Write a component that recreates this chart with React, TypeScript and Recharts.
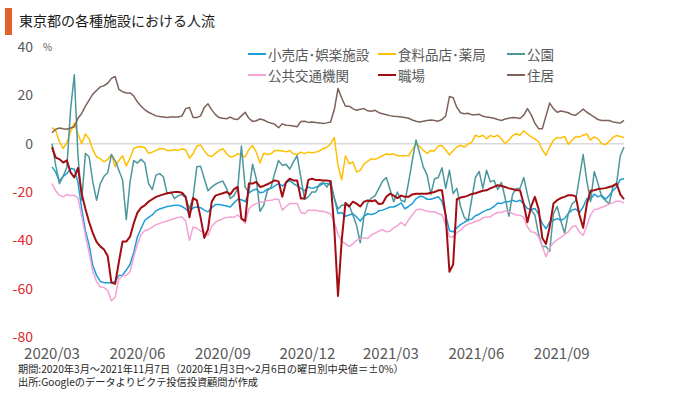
import { Line, LineChart, ReferenceLine, XAxis, YAxis } from "recharts";

// 7-day style mobility index, every 4 days from 2020-03-01
const START_DATE = "2020-03-01";
const STEP_DAYS = 4;

const retail = [
  -9.6, -11.8, -15.5, -13.5, -12.4, -10.3, -10.6, -16.0, -27.0, -36.0, -42.0, -50.5, -54.5, -57.0, -57.5, -57.5,
  -57.5, -57.0, -54.5, -54.4, -52.3, -50.0, -45.0, -38.5, -35.0, -31.7, -30.5, -29.5, -27.8, -27.0, -26.5, -26.0,
  -25.8, -25.5, -25.5, -26.0, -27.0, -28.5, -26.5, -26.2, -26.5, -27.5, -28.2, -26.5, -25.2, -25.2, -25.5, -25.8,
  -26.2, -24.5, -23.0, -23.2, -24.0, -20.5, -19.3, -18.8, -20.3, -20.0, -18.8, -18.5, -17.5, -16.5, -17.5, -16.2,
  -15.2, -16.5, -17.5, -18.5, -19.5, -17.9, -18.5, -18.0, -17.5, -16.5, -16.5, -17.0, -22.5, -28.9, -28.5, -30.0,
  -29.5, -29.0, -30.3, -32.0, -30.0, -29.0, -29.3, -28.9, -27.8, -27.5, -26.9, -26.2, -26.2, -25.5, -24.5, -27.0,
  -26.0, -24.8, -22.8, -21.8, -22.0, -23.0, -23.0, -22.5, -22.0, -23.8, -29.5, -36.0, -36.5, -34.8, -33.5, -32.6,
  -31.5, -31.3, -29.8, -29.2, -28.2, -27.5, -27.0, -26.0, -24.6, -24.8, -24.0, -24.0, -23.4, -24.0, -23.4, -25.0,
  -26.8, -27.2, -26.8, -29.0, -33.0, -35.2, -32.4, -31.7, -31.0, -31.7, -31.0, -28.9, -27.5, -27.0, -28.5, -26.2,
  -22.7, -23.0, -20.9, -22.0, -21.3, -23.0, -21.5, -19.5, -17.9, -14.8, -14.5,
];

const grocery = [
  6.6, 5.5, 0.8, -2.0, 0.5, 5.0, 8.5, 4.0, 0.0, 4.0, 2.0, -2.5, -5.5, -6.2, -7.5, -6.5,
  -4.5, -9.5, -7.0, -5.0, -9.2, -6.0, -2.0, -1.4, -1.2, -1.7, -4.0, -3.5, -2.8, -2.1, -2.1, -2.8,
  -2.8, -2.5, -2.8, -2.1, -2.5, -6.0, -4.1, -1.0, -0.5, -3.0, -4.8, -5.3, -4.0, -2.8, -2.1, -4.1,
  -5.5, -5.2, -4.2, -4.8, -5.5, -2.5, -0.8, -3.5, -8.0, -4.0, -4.5, -4.1, -2.8, -2.8, -3.0, -3.4,
  -2.8, -4.3, -4.5, -3.5, -4.1, -3.5, -3.8, -3.5, -3.0, -2.1, -1.5, 0.0, 2.5, -9.0, -15.0, -5.0,
  -8.3, -7.5, -11.7, -11.0, -8.5, -7.2, -6.2, -6.5, -5.8, -5.0, -4.2, -4.5, -4.2, -5.0, -5.0, -5.0,
  -5.0, -2.5, -0.2, -1.2, -2.8, -4.0, -2.8, -3.0, -1.0, -0.8, -2.6, -4.6, -2.8, -1.4, -0.7, -1.4,
  -0.2, 0.5, 3.5, 2.8, 3.5, 2.0, 3.4, 2.8, 3.5, 2.0, 0.0, 1.5, 3.3, 4.1, 3.5, 5.3,
  4.0, 2.8, 2.0, 0.8, -2.5, -4.8, -1.4, 1.5, 2.5, 2.3, 3.0, -0.3, 1.4, 2.8, 2.8, 3.5,
  4.0, 1.5, 2.8, 2.0, 0.0, -0.4, 1.0, 2.5, 3.4, 3.0, 2.5,
];

const parks = [
  0.0, -9.0, -16.5, -13.5, -9.8, 14.0, 28.5, -5.0, -23.4, -4.0, -5.5, -16.0, -23.4, -16.5, -13.5, -12.0,
  -4.5, -7.0, -11.0, -15.0, -31.5, -16.0, -7.0, -8.0, -6.5, -8.0, -16.5, -19.0, -13.0, -12.4, -13.8, -20.7,
  -20.0, -22.7, -21.5, -21.0, -22.5, -27.0, -22.0, -9.5, -9.3, -14.5, -19.5, -17.9, -16.8, -16.0, -15.5, -18.5,
  -22.7, -21.5, -18.5, -1.0, -18.0, -20.0, -8.5, -14.5, -28.0, -25.5, -19.5, -17.9, -12.0, -7.0, -9.0, -8.5,
  -10.5, -7.5, -5.0, -14.0, -23.0, -22.0, -20.0, -20.0, -16.8, -16.0, -18.0, -15.5, -22.5, -27.0, -25.5, -25.5,
  -25.5, -29.5, -33.8, -41.0, -30.0, -24.5, -22.5, -21.5, -18.5, -15.5, -14.0, -19.0, -24.0, -20.0, -23.5, -24.0,
  -16.0, -7.0, 1.5, -4.0, -9.8, -13.0, -21.0, -14.5, -14.0, -10.0, -18.5, -11.0, -20.7, -18.5, -26.0, -30.5,
  -32.0, -23.0, -14.0, -11.5, -18.5, -11.0, -15.8, -15.2, -19.0, -16.0, -22.5, -30.0, -21.0, -18.5, -18.5, -14.0,
  -21.0, -27.5, -29.5, -37.5, -42.5, -42.5, -44.5, -29.0, -26.0, -32.0, -37.0, -29.0, -25.0, -23.5, -14.0, -4.5,
  -15.5, -24.0, -11.5, -16.5, -22.0, -23.5, -25.0, -18.0, -16.5, -5.0, -1.4,
];

const transit = [
  -16.5, -19.5, -21.3, -22.0, -21.0, -21.5, -21.3, -22.5, -30.0, -38.0, -45.0, -53.0, -57.0, -59.2, -59.5, -60.8,
  -65.0, -63.5, -56.0, -54.7, -54.5, -53.0, -47.0, -41.5, -37.5, -35.9, -35.5, -34.5, -33.5, -33.0, -32.4, -32.0,
  -31.5, -31.0, -30.5, -30.3, -32.0, -40.0, -34.5, -35.0, -36.2, -36.5, -38.0, -34.4, -32.5, -31.7, -31.0, -30.6,
  -30.3, -30.5, -29.5, -31.0, -33.0, -27.0, -25.6, -24.8, -24.3, -24.0, -23.5, -23.4, -23.0, -23.0, -27.5, -26.0,
  -24.8, -24.8, -24.8, -28.5, -29.0, -27.5, -27.5, -27.5, -28.0, -28.0, -28.5, -29.0, -32.5, -37.5, -40.3, -41.5,
  -42.5, -41.5, -40.0, -39.5, -38.9, -39.2, -37.8, -37.0, -36.2, -35.5, -36.5, -36.2, -34.8, -34.0, -32.5, -34.0,
  -31.5, -29.5, -27.5, -27.0, -27.5, -28.0, -28.2, -28.2, -28.9, -29.5, -33.5, -38.5, -38.6, -36.8, -35.8, -34.2,
  -33.3, -32.8, -32.2, -31.7, -30.7, -30.3, -30.3, -29.2, -28.5, -28.5, -27.8, -28.2, -28.9, -29.5, -29.6, -30.5,
  -34.5, -36.5, -36.8, -38.5, -42.5, -46.8, -43.0, -41.0, -39.8, -38.8, -37.5, -36.5, -34.5, -34.0, -36.5, -38.0,
  -34.0, -29.5, -27.2, -27.0, -26.3, -25.8, -25.0, -24.5, -23.8, -23.8, -24.5,
];

const workplace = [
  -1.4, -5.8, -6.4, -7.8, -6.9, -11.9, -14.0, -10.0, -20.7, -27.0, -32.5, -37.0, -40.6, -42.5, -43.8, -46.5,
  -57.5, -58.0, -49.0, -40.5, -40.5, -38.5, -33.0, -28.5, -26.5, -25.5, -24.0, -23.0, -22.0, -21.5, -21.0, -20.5,
  -20.3, -20.0, -20.0, -20.3, -22.0, -30.5, -22.5, -23.5, -30.5, -39.0, -35.5, -24.0, -21.5, -21.0, -20.5, -20.0,
  -21.0, -18.8, -17.9, -31.0, -32.0, -16.5, -16.5, -15.8, -17.9, -17.5, -16.8, -16.0, -15.2, -15.6, -22.0, -16.0,
  -14.5, -15.2, -15.2, -22.7, -22.7, -15.0, -14.5, -15.0, -15.0, -15.2, -15.2, -15.5, -35.0, -63.0, -40.0, -24.5,
  -26.0, -24.0, -24.8, -26.0, -24.0, -23.5, -23.8, -23.4, -25.0, -24.8, -22.0, -20.7, -21.5, -22.5, -21.5, -22.0,
  -22.0, -21.0, -20.7, -20.7, -20.7, -20.7, -20.3, -20.0, -19.3, -19.3, -30.0, -53.0, -50.0, -23.0, -22.3, -22.0,
  -21.5, -20.8, -20.5, -20.0, -19.5, -19.3, -18.5, -17.9, -17.2, -17.5, -17.9, -18.5, -18.8, -19.3, -19.3, -25.0,
  -32.5, -26.0, -22.0, -27.0, -39.0, -41.5, -34.4, -24.8, -23.4, -22.5, -22.0, -21.3, -21.3, -21.8, -29.5, -34.8,
  -25.0, -19.5, -19.3, -18.8, -18.6, -18.4, -17.9, -17.5, -16.5, -21.0, -23.0,
];

const residential = [
  4.5, 6.0, 6.5, 6.2, 6.0, 6.5, 7.0, 10.5, 12.5, 15.5, 18.0, 20.5, 22.0, 23.5, 24.0, 25.0,
  27.0, 27.8, 22.5, 21.5, 21.0, 21.0, 19.8, 17.2, 15.5, 14.0, 13.0, 12.2, 11.5, 11.2, 11.0, 10.8,
  11.0, 11.0, 11.0, 11.5, 14.5, 15.0, 10.8, 10.8, 11.5, 15.0, 16.5, 14.0, 12.0, 10.8, 10.5, 10.3,
  11.0, 10.2, 10.0, 11.5, 13.0, 10.5, 9.2, 9.5, 10.2, 9.8, 9.0, 8.5, 8.0, 6.6, 8.2, 7.6,
  7.5, 7.3, 7.0, 9.2, 9.3, 8.8, 9.0, 8.8, 8.6, 8.3, 8.6, 9.0, 14.0, 22.8, 18.9, 15.5,
  15.5, 14.5, 13.8, 14.2, 14.5, 13.6, 13.4, 13.8, 12.8, 12.4, 12.0, 11.6, 11.3, 11.2, 11.0, 10.8,
  10.5, 9.8, 9.3, 9.0, 9.3, 9.6, 9.8, 9.6, 9.3, 10.0, 11.5, 19.5, 19.0, 15.0, 12.8, 12.4,
  12.6, 12.0, 12.0, 12.2, 11.3, 11.0, 10.8, 10.5, 10.0, 9.6, 10.2, 10.5, 10.8, 10.7, 10.4, 11.8,
  14.5, 12.0, 8.5, 6.2, 6.2, 11.5, 16.8, 14.5, 13.0, 13.5, 13.2, 12.8, 12.0, 11.8, 13.0, 14.3,
  13.0, 12.0, 11.0, 10.0, 9.6, 9.6, 9.6, 9.0, 8.8, 8.5, 9.6,
];

const TICK_DATES = ["2020-03-01", "2020-06-01", "2020-09-01", "2020-12-01", "2021-03-01", "2021-06-01", "2021-09-01"];
const TICK_LABELS = ["2020/03", "2020/06", "2020/09", "2020/12", "2021/03", "2021/06", "2021/09"];
const Y_TICKS = [-80, -60, -40, -20, 0, 20, 40];

const SERIES = [
  { key: "retail", name: "小売店･娯楽施設", color: "#1b9ed8", width: 1.5, values: retail },
  { key: "grocery", name: "食料品店･薬局", color: "#ffbf00", width: 1.5, values: grocery },
  { key: "parks", name: "公園", color: "#4b979b", width: 1.5, values: parks },
  { key: "transit", name: "公共交通機関", color: "#f3a2d4", width: 1.5, values: transit },
  { key: "workplace", name: "職場", color: "#a10d12", width: 2, values: workplace },
  { key: "residential", name: "住居", color: "#7d625a", width: 1.5, values: residential },
];

const FONT = "'Noto Sans CJK JP', 'Noto Sans', sans-serif";
const GRAY = "#595959";
const RED = "#e0282c";

function dayOf(iso: string) {
  return Math.round((Date.parse(iso) - Date.parse(START_DATE)) / 86400000);
}

const tickDays = TICK_DATES.map(dayOf);
const lastDay = (retail.length - 1) * STEP_DAYS;

const data = retail.map((_, i) => {
  const row: Record<string, number> = { day: i * STEP_DAYS };
  SERIES.forEach((s) => {
    row[s.key] = s.values[i];
  });
  return row;
});

function YTick({ x, y, payload }: any) {
  const v = payload.value as number;
  return (
    <g>
      <text x={x} y={y} dy="0.36em" textAnchor="end" fontSize={14} fill={v < 0 ? RED : GRAY}>
        {v}
      </text>
      {v === 40 && (
        <text x={x + 10} y={y} dy="0.36em" fontSize={10} fill={GRAY}>
          %
        </text>
      )}
    </g>
  );
}

export default function App() {
  return (
    <div
      style={{
        position: "absolute",
        left: 0,
        top: 0,
        width: 680,
        height: 393,
        background: "#fff",
        fontFamily: FONT,
        overflow: "hidden",
      }}
    >
      <div style={{ position: "absolute", left: 5, top: 8, width: 7, height: 27, background: "#e0622a" }} />
      <div
        style={{ position: "absolute", left: 19, top: 10, fontSize: 14, lineHeight: "20px", color: "#1a1a1a" }}
      >
        東京都の各種施設における人流
      </div>

      <LineChart width={680} height={393} data={data} margin={{ top: 47, right: 56, bottom: 26, left: 0 }}>
        <XAxis
          dataKey="day"
          type="number"
          domain={[0, lastDay]}
          ticks={tickDays}
          interval={0}
          tickFormatter={(d: number) => TICK_LABELS[tickDays.indexOf(d)] ?? ""}
          tick={{ fontSize: 15, fill: GRAY }}
          axisLine={false}
          tickLine={false}
          tickSize={0}
          tickMargin={11}
          height={30}
        />
        <YAxis
          domain={[-80, 40]}
          ticks={Y_TICKS}
          interval={0}
          tick={<YTick />}
          axisLine={false}
          tickLine={false}
          tickSize={0}
          tickMargin={19}
          width={52}
        />
        <ReferenceLine y={0} stroke="#d9d9d9" strokeWidth={1.5} />
        {SERIES.map((s) => (
          <Line
            key={s.key}
            dataKey={s.key}
            name={s.name}
            type="linear"
            stroke={s.color}
            strokeWidth={s.width}
            strokeLinejoin="round"
            dot={false}
            activeDot={false}
            isAnimationActive={false}
          />
        ))}
      </LineChart>

      {SERIES.map((s, i) => (
        <div
          key={s.key}
          style={{
            position: "absolute",
            left: [248, 378, 507][i % 3],
            top: i < 3 ? 44 : 65,
            display: "flex",
            alignItems: "center",
            height: 20,
            fontSize: 13.5,
            color: GRAY,
            whiteSpace: "nowrap",
          }}
        >
          <span style={{ display: "inline-block", width: 18, height: 2, background: s.color, marginRight: 2 }} />
          {s.name}
        </div>
      ))}

      <div style={{ position: "absolute", left: 18, top: 363, fontSize: 10.2, lineHeight: "12.5px", color: "#262626" }}>
        <div>期間:2020年3月～2021年11月7日（2020年1月3日～2月6日の曜日別中央値＝±0%）</div>
        <div>出所:Googleのデータよりピクテ投信投資顧問が作成</div>
      </div>
    </div>
  );
}
